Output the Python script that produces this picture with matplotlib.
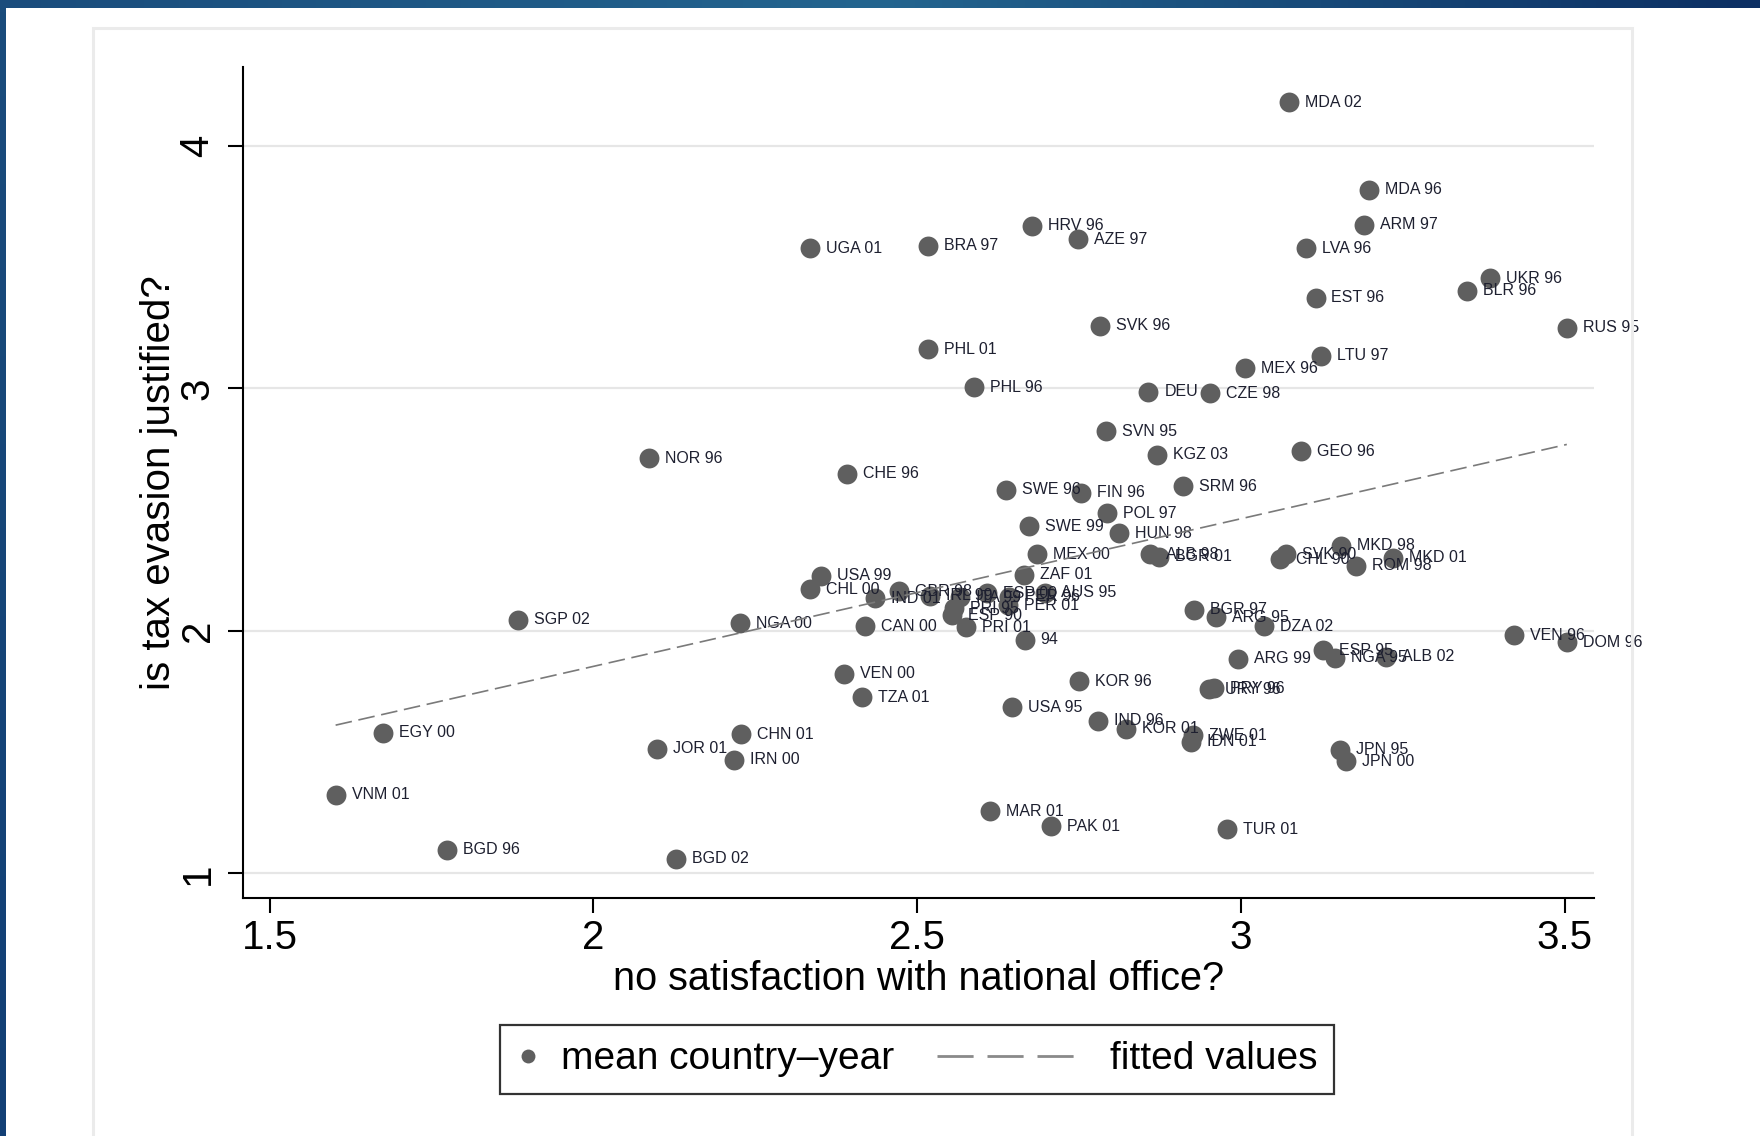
import numpy as np
from matplotlib import pyplot as plt
from matplotlib.axes import Axes
from matplotlib.lines import Line2D
from matplotlib.patches import Rectangle
from matplotlib.colors import LinearSegmentedColormap
from matplotlib.legend_handler import HandlerLine2D

plt.rcParams['font.family'] = ['Liberation Sans', 'DejaVu Sans']

# mean country-year values
labels = [
    'MDA 02', 'MDA 96', 'ARM 97', 'HRV 96', 'AZE 97', 'UGA 01', 'BRA 97', 'LVA 96',
    'UKR 96', 'BLR 96', 'EST 96', 'RUS 95', 'SVK 96', 'LTU 97', 'PHL 01', 'MEX 96',
    'PHL 96', 'DEU', 'CZE 98', 'SVN 95', 'NOR 96', 'KGZ 03', 'GEO 96', 'CHE 96',
    'SWE 96', 'FIN 96', 'SRM 96', 'POL 97', 'SWE 99', 'HUN 98', 'MEX 00', 'ALB 98',
    'BGR 01', 'MKD 98', 'CHL 90', 'SVK 90', 'MKD 01', 'ROM 98', 'USA 99', 'ZAF 01',
    'CHL 00', 'AUS 95', 'IND 01', 'GBR 98', 'IRL 99', 'ITA 99', 'ESP 00', 'PRI 95',
    'ESP 90', 'PRI 01', 'PER 01', 'PER 96', 'NGA 00', 'SGP 02', 'CAN 00', '94',
    'BGR 97', 'ARG 95', 'DZA 02', 'VEN 96', 'DOM 96', 'ARG 99', 'ESP 95', 'NGA 95',
    'ALB 02', 'VEN 00', 'KOR 96', 'TZA 01', 'URY 96', 'PRY 96', 'USA 95', 'IND 96',
    'KOR 01', 'ZWE 01', 'IDN 01', 'CHN 01', 'EGY 00', 'JOR 01', 'JPN 95', 'JPN 00',
    'IRN 00', 'VNM 01', 'MAR 01', 'PAK 01', 'TUR 01', 'BGD 96', 'BGD 02',
]
no_satisfaction = [
    3.074, 3.198, 3.190, 2.677, 2.748, 2.335, 2.517, 3.100,
    3.384, 3.349, 3.115, 3.503, 2.782, 3.124, 2.517, 3.006,
    2.587, 2.857, 2.952, 2.791, 2.086, 2.871, 3.093, 2.391,
    2.637, 2.753, 2.911, 2.793, 2.673, 2.812, 2.685, 2.860,
    2.874, 3.155, 3.060, 3.070, 3.235, 3.178, 2.351, 2.665,
    2.335, 2.698, 2.435, 2.472, 2.520, 2.566, 2.608, 2.557,
    2.554, 2.576, 2.640, 2.642, 2.226, 1.883, 2.420, 2.666,
    2.928, 2.961, 3.036, 3.422, 3.503, 2.996, 3.126, 3.145,
    3.224, 2.387, 2.750, 2.415, 2.951, 2.959, 2.646, 2.779,
    2.822, 2.926, 2.923, 2.228, 1.675, 2.098, 3.153, 3.162,
    2.217, 1.602, 2.613, 2.706, 2.978, 1.774, 2.127,
]
tax_evasion = [
    4.180, 3.820, 3.676, 3.671, 3.616, 3.579, 3.588, 3.579,
    3.454, 3.403, 3.375, 3.250, 3.259, 3.134, 3.162, 3.083,
    3.005, 2.986, 2.981, 2.824, 2.713, 2.727, 2.741, 2.648,
    2.583, 2.569, 2.597, 2.486, 2.431, 2.403, 2.315, 2.315,
    2.306, 2.352, 2.296, 2.315, 2.301, 2.269, 2.227, 2.231,
    2.171, 2.157, 2.135, 2.164, 2.145, 2.139, 2.156, 2.093,
    2.065, 2.014, 2.105, 2.140, 2.032, 2.046, 2.019, 1.963,
    2.088, 2.056, 2.019, 1.981, 1.954, 1.884, 1.921, 1.889,
    1.894, 1.824, 1.792, 1.727, 1.759, 1.764, 1.685, 1.630,
    1.597, 1.569, 1.542, 1.574, 1.579, 1.514, 1.509, 1.463,
    1.468, 1.324, 1.255, 1.194, 1.181, 1.097, 1.060,
]

# fitted values line, ends
fit_x = [1.602, 3.503]
fit_y = [1.611, 2.769]

x_ticks = [1.5, 2, 2.5, 3, 3.5]
x_tick_labels = ['1.5', '2', '2.5', '3', '3.5']
y_ticks = [1, 2, 3, 4]
y_tick_labels = ['1', '2', '3', '4']

W, H = 1760, 1136
fig = plt.figure(figsize=(W / 100, H / 100), dpi=100, facecolor='white')

# page decoration: blue band on top and left, light panel border
grad = np.linspace(0, 1, 256)
band = fig.add_axes([0, 1 - 8 / H, 1, 8 / H])
cmap_top = LinearSegmentedColormap.from_list('top', ['#1a4c7c', '#24658f', '#0c2f63'])
band.imshow(grad[None, :], aspect='auto', cmap=cmap_top)
band.axis('off')
side = fig.add_axes([0, 0, 5 / W, 1 - 8 / H])
cmap_side = LinearSegmentedColormap.from_list('side', ['#1a4c7c', '#123f75'])
side.imshow(grad[:, None], aspect='auto', cmap=cmap_side)
side.axis('off')
fig.patches.append(Rectangle((93 / W, -0.01), (1632 - 93) / W, 1 - 28 / H + 0.01,
                             transform=fig.transFigure, fill=False,
                             edgecolor='#ebebeb', linewidth=2.2))

ax: Axes = fig.add_axes([243 / W, 1 - 898 / H, (1594 - 243) / W, (898 - 67) / H])
ax.set_facecolor('none')

ax.scatter(no_satisfaction, tax_evasion, s=205, color='#5f5f5f', linewidths=0, zorder=3)
for lab, xv, yv in zip(labels, no_satisfaction, tax_evasion):
    ax.annotate(lab, (xv, yv), xytext=(11.5, 0), textcoords='offset points',
                ha='left', va='center', fontsize=11.5, color='#1e2030', zorder=4)

ax.plot(fit_x, fit_y, color='#7a7a7a', linewidth=1.2, dashes=(10, 4), zorder=5)

ax.set_xlim(1.459, 3.545)
ax.set_ylim(0.898, 4.326)
ax.set_xticks(x_ticks, x_tick_labels)
ax.set_yticks(y_ticks, y_tick_labels)
ax.tick_params(axis='both', length=11, width=1.5, color='black', labelsize=29, direction='out')
ax.tick_params(axis='x', pad=4)
ax.tick_params(axis='y', pad=8)
for t in ax.get_yticklabels():
    t.set_rotation(90)
    t.set_va('center')

ax.yaxis.grid(True, color='#e6e6e6', linewidth=1.6)
ax.set_axisbelow(True)
for s in ['top', 'right']:
    ax.spines[s].set_visible(False)
for s in ['left', 'bottom']:
    ax.spines[s].set_linewidth(1.5)

ax.set_xlabel('no satisfaction with national office?', fontsize=28.5, va='center')
ax.xaxis.set_label_coords(0.5, -0.097)
ax.set_ylabel('is tax evasion justified?', fontsize=29, va='center')
ax.yaxis.set_label_coords(-0.062, 0.5)


class LongDash(HandlerLine2D):
    # draw the dashed sample further to the left than the handle box
    def create_artists(self, legend, orig_handle, xdescent, ydescent, width, height, fontsize, trans):
        y = height / 2 - ydescent
        line = Line2D([-xdescent + width - 3.9 * fontsize, -xdescent + width - 0.1 * fontsize], [y, y])
        self.update_prop(line, orig_handle, legend)
        line.set_transform(trans)
        return [line]


dot_handle = Line2D([], [], linestyle='none', marker='o', markersize=10,
                    color='#5f5f5f', markeredgewidth=0)
fit_handle = Line2D([], [], color='#8a8a8a', linewidth=2, dashes=(13, 5))
leg = fig.legend([dot_handle, fit_handle], ['mean country\u2013year', 'fitted values'],
                 loc='upper center', bbox_to_anchor=(917 / W, 1 - 1025 / H),
                 ncol=2, fontsize=28, frameon=True, fancybox=False,
                 edgecolor='black', borderpad=0.42, handlelength=0.6,
                 handletextpad=0.55, columnspacing=4.4, borderaxespad=0,
                 handler_map={fit_handle: LongDash()})
leg.get_frame().set_linewidth(1.6)

fig.savefig('out.png', dpi=100, facecolor='white')
